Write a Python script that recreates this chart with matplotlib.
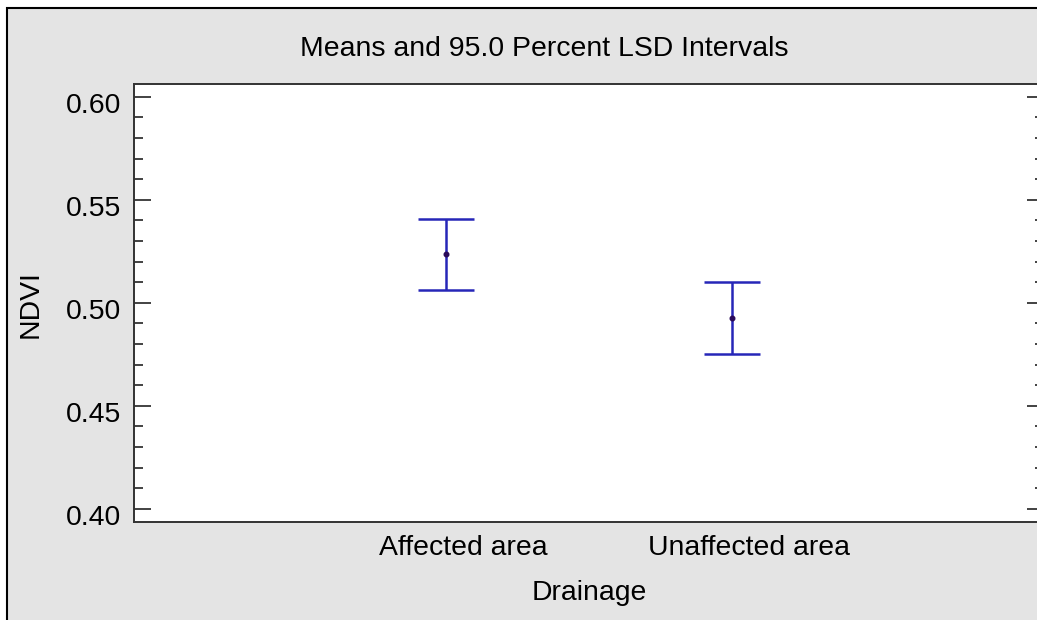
import matplotlib.pyplot as plt
import matplotlib.transforms as mtransforms
from matplotlib.patches import Rectangle
from matplotlib.ticker import MultipleLocator

# data
groups = ['Affected area', 'Unaffected area']
means = [0.5235, 0.4925]
lower = [0.5062, 0.4752]
upper = [0.5407, 0.5099]

plt.rcParams['font.family'] = ['Liberation Sans', 'DejaVu Sans']
fs = 20.4

fig = plt.figure(figsize=(10.37, 6.2), dpi=100, facecolor='white')
# grey panel with a black frame (right and bottom run off the picture)
fig.patches.append(Rectangle((7 / 1037, -0.1), 1.2, 1 - 8 / 620 + 0.1,
                             transform=fig.transFigure, facecolor='#e4e4e4',
                             edgecolor='black', linewidth=1.5, zorder=-10))

ax = fig.add_axes([134 / 1037, (620 - 521.7) / 620, 910 / 1037, 437.7 / 620])
ax.set_facecolor('white')

xpos = list(range(1, len(groups) + 1))
err_lo = [m - l for m, l in zip(means, lower)]
err_hi = [u - m for m, u in zip(means, upper)]
ax.errorbar(xpos, means, yerr=[err_lo, err_hi], fmt='none', ecolor='#2626b8',
            elinewidth=1.8, capsize=20.5, capthick=1.8)
ax.plot(xpos, means, 'o', color='#2a0a5a', markersize=3.3)

ax.set_xlim(1 - 1.09, 2 + 1.09)
ax.set_ylim(0.3938, 0.6062)
ax.set_xticks(xpos)
ax.set_xticklabels(groups, fontsize=fs)
ax.yaxis.set_major_locator(MultipleLocator(0.05))
ax.yaxis.set_minor_locator(MultipleLocator(0.01))
ax.yaxis.set_major_formatter(plt.FormatStrFormatter('%.2f'))
ax.tick_params(axis='y', which='both', direction='in', left=True, right=True,
               labelsize=fs, pad=9.5, width=1.2, color='#222222')
ax.tick_params(axis='y', which='major', length=12.5)
ax.tick_params(axis='y', which='minor', length=6.7)
ax.tick_params(axis='x', length=0, pad=9.5)

# shift tick labels the way the original places them
dx = mtransforms.ScaledTranslation(17 / 100, 0, fig.dpi_scale_trans)
for lab in ax.get_xticklabels():
    lab.set_transform(lab.get_transform() + dx)
dy = mtransforms.ScaledTranslation(0, -6.5 / 100, fig.dpi_scale_trans)
for lab in ax.get_yticklabels():
    lab.set_transform(lab.get_transform() + dy)

for s in ax.spines.values():
    s.set_color('#333333')
    s.set_linewidth(1.4)

ax.set_xlabel('Drainage', fontsize=fs, labelpad=14)
ax.set_ylabel('NDVI', fontsize=fs)
ax.yaxis.set_label_coords(-0.099, 0.497)

fig.text(544 / 1037, 1 - 48.5 / 620, 'Means and 95.0 Percent LSD Intervals',
         fontsize=fs, ha='center', va='center')

fig.savefig('out.png', dpi=100, facecolor=fig.get_facecolor())
